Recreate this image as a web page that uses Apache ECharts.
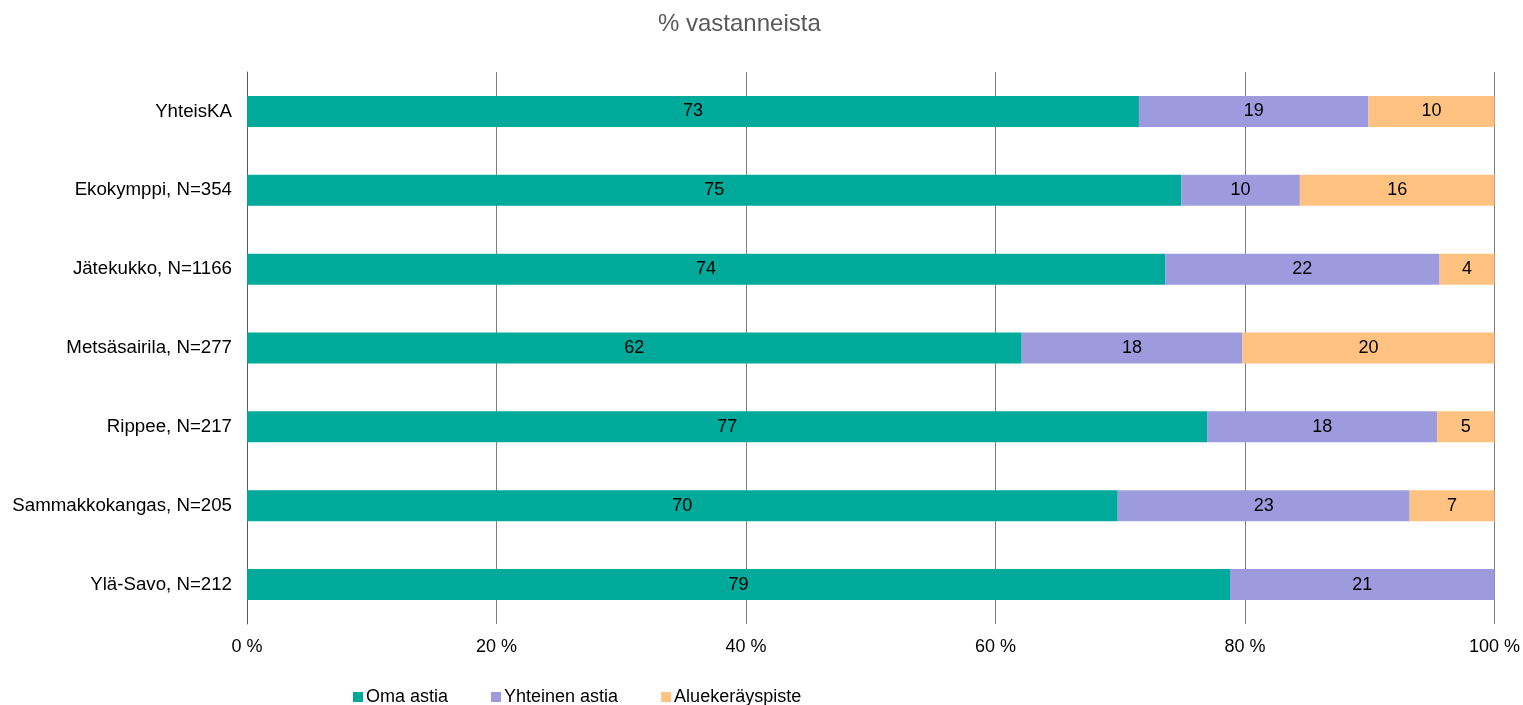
<!DOCTYPE html>
<html>
<head>
<meta charset="utf-8">
<script src="https://cdn.jsdelivr.net/npm/echarts@6/dist/echarts.min.js"></script>
<style>
html,body{margin:0;padding:0;background:#fff;}
#chart{width:1523px;height:705px;}
</style>
</head>
<body>
<div id="chart"></div>
<script>
const categories = ['YhteisKA', 'Ekokymppi, N=354', 'Jätekukko, N=1166', 'Metsäsairila, N=277', 'Rippee, N=217', 'Sammakkokangas, N=205', 'Ylä-Savo, N=212'];
const seriesNames = ['Oma astia', 'Yhteinen astia', 'Aluekeräyspiste'];
// bar shares (% of row)
const omaShare = [71.5, 74.9, 73.6, 62.1, 77.0, 69.8, 78.8];
const yhteinenShare = [18.4, 9.5, 22.0, 17.7, 18.4, 23.4, 21.2];
const alueShare = [10.1, 15.6, 4.4, 20.2, 4.6, 6.8, 0];
// printed data labels
const omaLabel = [73, 75, 74, 62, 77, 70, 79];
const yhteinenLabel = [19, 10, 22, 18, 18, 23, 21];
const alueLabel = [10, 16, 4, 20, 5, 7, null];
const xTicks = [0, 20, 40, 60, 80, 100];

const colors = ['#00AA9A', '#9D9BDE', '#FFC281'];
const FONT = 'Liberation Sans, Arial, sans-serif';

function mk(name, share, labels, color) {
  return {
    name: name,
    type: 'bar',
    stack: 'total',
    barWidth: 31,
    itemStyle: { color: color },
    label: {
      show: true,
      position: 'inside',
      fontFamily: FONT,
      fontSize: 18,
      color: '#000',
      formatter: p => labels[p.dataIndex] == null ? '' : String(labels[p.dataIndex])
    },
    data: share
  };
}

const chart = echarts.init(document.getElementById('chart'));
chart.setOption({
  animation: false,
  textStyle: { fontFamily: FONT },
  title: {
    text: '% vastanneista',
    left: 653,
    top: 7,
    textStyle: { fontFamily: FONT, fontSize: 24, fontWeight: 'normal', color: '#595959' }
  },
  grid: { left: 247, right: 26, top: 72, bottom: 81, containLabel: false },
  xAxis: {
    type: 'value',
    min: xTicks[0],
    max: xTicks[xTicks.length - 1],
    interval: xTicks[1] - xTicks[0],
    axisLine: { show: false },
    axisTick: { show: false },
    splitLine: { show: true, lineStyle: { color: '#7f7f7f', width: 1 } },
    axisLabel: { fontFamily: FONT, fontSize: 18, color: '#000', margin: 14, formatter: '{value} %' }
  },
  yAxis: {
    type: 'category',
    inverse: true,
    data: categories,
    axisLine: { show: true, lineStyle: { color: '#595959', width: 1 } },
    axisTick: { show: false },
    axisLabel: { fontFamily: FONT, fontSize: 18.7, color: '#000', margin: 15 }
  },
  legend: {
    data: seriesNames,
    left: 348,
    top: 683,
    icon: 'rect',
    itemWidth: 10,
    itemHeight: 10,
    itemGap: 43,
    textStyle: { fontFamily: FONT, fontSize: 18, color: '#000', padding: [0, 0, 0, -2] }
  },
  series: [
    mk(seriesNames[0], omaShare, omaLabel, colors[0]),
    mk(seriesNames[1], yhteinenShare, yhteinenLabel, colors[1]),
    mk(seriesNames[2], alueShare, alueLabel, colors[2])
  ]
});
</script>
</body>
</html>
